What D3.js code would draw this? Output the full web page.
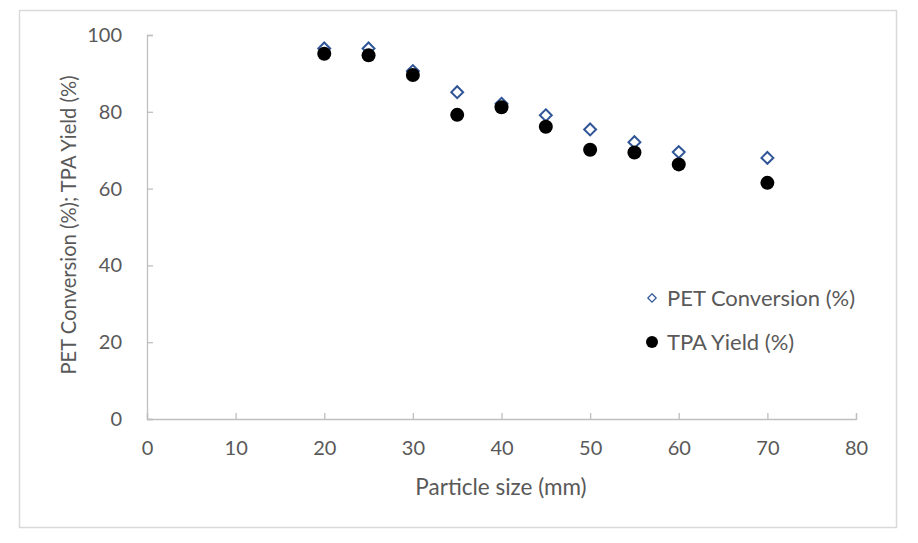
<!DOCTYPE html>
<html lang="en">
<head>
  <meta charset="UTF-8" />
  <title>PET conversion and TPA yield vs particle size</title>
  <script src="https://d3js.org/d3.v7.min.js"></script>
  <style>
    body { margin: 0; background: #fff; }
    svg { display: block; }
    text { font-family: Lato, "Open Sans", sans-serif; fill: #595959; }
  </style>
</head>
<body>
  <svg width="918" height="543"></svg>
  <script>
    // data
    const particleSize = [20, 25, 30, 35, 40, 45, 50, 55, 60, 70];
    const petConversion = [96.5, 96.5, 90.6, 85.1, 82.1, 79.1, 75.4, 72.1, 69.5, 68.0];
    const tpaYield = [95.1, 94.7, 89.6, 79.2, 81.2, 76.1, 70.1, 69.4, 66.3, 61.5];
    const xTicks = [0, 10, 20, 30, 40, 50, 60, 70, 80];
    const yTicks = [0, 20, 40, 60, 80, 100];

    const svg = d3.select("svg");
    const plot = { left: 147, right: 856, top: 35, bottom: 419 };

    // chart border
    svg.append("rect")
      .attr("x", 19.5).attr("y", 10.5)
      .attr("width", 877).attr("height", 517)
      .attr("fill", "none")
      .attr("stroke", "#d9d9d9")
      .attr("stroke-width", 1.5);

    const x = d3.scaleLinear().domain([0, 80]).range([plot.left, plot.right]);
    const y = d3.scaleLinear().domain([0, 100]).range([plot.bottom, plot.top]);

    // axes with inside ticks
    const xAxis = svg.append("g")
      .attr("transform", `translate(0,${plot.bottom})`)
      .call(d3.axisBottom(x).tickValues(xTicks).tickSize(-6).tickPadding(22));
    const yAxis = svg.append("g")
      .attr("transform", `translate(${plot.left},0)`)
      .call(d3.axisLeft(y).tickValues(yTicks).tickSize(-6).tickPadding(25));

    [xAxis, yAxis].forEach(g => {
      g.select(".domain").attr("stroke", "#bfbfbf").attr("stroke-width", 1.3);
      g.selectAll(".tick line").attr("stroke", "#bfbfbf").attr("stroke-width", 1.3);
      g.selectAll(".tick text")
        .attr("font-size", 20)
        .attr("font-family", "Lato, 'Open Sans', sans-serif")
        .attr("fill", "#595959");
    });

    // axis titles
    svg.append("text")
      .attr("x", 501)
      .attr("y", 495)
      .attr("text-anchor", "middle")
      .attr("font-size", 22.5)
      .text("Particle size (mm)");

    svg.append("text")
      .attr("transform", "translate(76,225) rotate(-90)")
      .attr("text-anchor", "middle")
      .attr("font-size", 20.2)
      .text("PET Conversion (%); TPA Yield (%)");

    const diamond = d3.symbol().type(d3.symbolDiamond2);

    // PET conversion (hollow diamonds)
    svg.append("g")
      .selectAll("path")
      .data(particleSize)
      .join("path")
      .attr("transform", (d, i) => `translate(${x(d)},${y(petConversion[i])})`)
      .attr("d", diamond.size(90)())
      .attr("fill", "#fff")
      .attr("stroke", "#2f5597")
      .attr("stroke-width", 2);

    // TPA yield (filled circles)
    svg.append("g")
      .selectAll("circle")
      .data(particleSize)
      .join("circle")
      .attr("cx", d => x(d))
      .attr("cy", (d, i) => y(tpaYield[i]))
      .attr("r", 7)
      .attr("fill", "#000");

    // legend
    const legend = svg.append("g");
    legend.append("path")
      .attr("transform", "translate(652,298)")
      .attr("d", diamond.size(45)())
      .attr("fill", "#fff")
      .attr("stroke", "#2f5597")
      .attr("stroke-width", 1.2);
    legend.append("text")
      .attr("x", 667).attr("y", 298)
      .attr("dy", "0.35em")
      .attr("font-size", 22)
      .text("PET Conversion (%)");
    legend.append("circle")
      .attr("cx", 652).attr("cy", 342).attr("r", 6)
      .attr("fill", "#000");
    legend.append("text")
      .attr("x", 667).attr("y", 342)
      .attr("dy", "0.35em")
      .attr("font-size", 22)
      .text("TPA Yield (%)");
  </script>
</body>
</html>
